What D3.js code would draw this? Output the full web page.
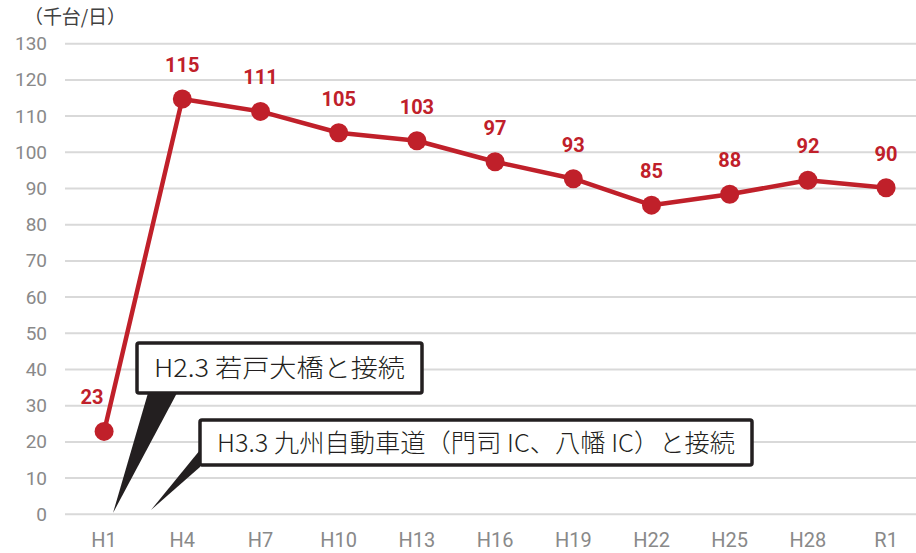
<!DOCTYPE html>
<html>
<head>
<meta charset="utf-8">
<script src="https://cdn.jsdelivr.net/npm/d3@7"></script>
<style>
  body { margin: 0; background: #fff; }
  svg { display: block; }
</style>
</head>
<body>
<div id="chart"></div>
<script>
const WIDTH = 916;
const HEIGHT = 553;

// data
const years = ["H1", "H4", "H7", "H10", "H13", "H16", "H19", "H22", "H25", "H28", "R1"];
const traffic = [22.9, 114.7, 111.3, 105.4, 103.2, 97.4, 92.7, 85.4, 88.4, 92.3, 90.2];
const yTicks = [0, 10, 20, 30, 40, 50, 60, 70, 80, 90, 100, 110, 120, 130];
const unitLabel = "（千台/日）";
const notes = [
  { text: "H2.3 若戸大橋と接続", box: [137, 343, 285, 50], tail: [[148, 393], [177, 393], [113, 513]] },
  { text: "H3.3 九州自動車道（門司 IC、八幡 IC）と接続", box: [200, 420, 552, 45], tail: [[200, 450], [200, 467], [151, 510]] }
];

const RED = "#c0202a";

let svg = d3.select("#chart")
    .append("svg")
    .attr("width", WIDTH)
    .attr("height", HEIGHT)

let x = d3.scaleBand()
    .domain(years)
    .range([65, 65 + 78.2 * years.length])

let y = d3.scaleLinear()
    .domain([0, 130])
    .range([514.3, 43.7])

// gridlines
svg.append("g")
    .selectAll("line")
    .data(yTicks)
    .enter()
    .append("line")
    .attr("x1", 65)
    .attr("x2", WIDTH)
    .attr("y1", d => y(d))
    .attr("y2", d => y(d))
    .style("stroke", "#d9d9d9")
    .style("stroke-width", 2)

// y axis labels
let yAxis = svg.append("g")
    .attr("transform", "translate(47,0)")
    .call(d3.axisLeft(y).tickValues(yTicks).tickSize(0).tickPadding(0))
yAxis.select(".domain").remove()
yAxis.selectAll("text")
    .style("font-family", "Roboto, 'Noto Sans', sans-serif")
    .style("font-size", "19px")
    .style("fill", "#898989")

// x axis labels
let xAxis = svg.append("g")
    .attr("transform", "translate(0,533)")
    .call(d3.axisBottom(x).tickSize(0).tickPadding(0))
xAxis.select(".domain").remove()
xAxis.selectAll("text")
    .attr("dy", "0.71em")
    .style("font-family", "Roboto, 'Noto Sans', sans-serif")
    .style("font-size", "20px")
    .style("fill", "#898989")

// unit label
svg.append("text")
    .attr("x", 24)
    .attr("y", 24)
    .attr("textLength", 102)
    .attr("lengthAdjust", "spacing")
    .style("font-family", "'Noto Sans CJK JP', sans-serif")
    .style("font-size", "19px")
    .style("fill", "#404040")
    .text(unitLabel)

let rows = years.map((d, i) => ({ year: d, value: traffic[i] }))
let cx = d => x(d.year) + x.bandwidth() / 2

// line
svg.append("path")
    .datum(rows)
    .attr("d", d3.line().x(cx).y(d => y(d.value)))
    .style("fill", "none")
    .style("stroke", RED)
    .style("stroke-width", 4.5)
    .style("stroke-linejoin", "round")

// markers
svg.append("g")
    .selectAll("circle")
    .data(rows)
    .enter()
    .append("circle")
    .attr("cx", cx)
    .attr("cy", d => y(d.value))
    .attr("r", 9.5)
    .style("fill", RED)

// value labels
svg.append("g")
    .selectAll("text")
    .data(rows)
    .enter()
    .append("text")
    .attr("x", (d, i) => i == 0 ? cx(d) - 12 : cx(d))
    .attr("y", d => y(d.value) - 27)
    .attr("text-anchor", "middle")
    .style("font-family", "Roboto, sans-serif")
    .style("font-weight", "bold")
    .style("font-size", "20px")
    .style("fill", RED)
    .text(d => Math.round(d.value))

// callouts
let note = svg.append("g")
    .selectAll("g")
    .data(notes)
    .enter()
    .append("g")

note.append("path")
    .attr("d", d => "M" + d.tail.join("L") + "Z")
    .style("fill", "#231f20")

note.append("rect")
    .attr("x", d => d.box[0])
    .attr("y", d => d.box[1])
    .attr("width", d => d.box[2])
    .attr("height", d => d.box[3])
    .attr("rx", 2)
    .style("fill", "#fff")
    .style("stroke", "#231f20")
    .style("stroke-width", 3.5)

note.append("text")
    .attr("x", d => d.box[0] + 17)
    .attr("y", d => d.box[1] + d.box[3] / 2 + 9)
    .attr("textLength", d => d.box[2] - 34)
    .attr("lengthAdjust", "spacingAndGlyphs")
    .style("font-family", "'Noto Sans CJK JP', sans-serif")
    .style("font-weight", 300)
    .style("font-size", "25px")
    .style("fill", "#231f20")
    .text(d => d.text)
</script>
</body>
</html>
